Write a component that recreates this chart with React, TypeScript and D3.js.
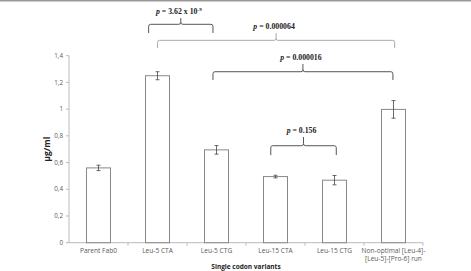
import React from "react";
import * as d3 from "d3";

const categories = ["Parent Fab0", "Leu-5 CTA", "Leu-5 CTG", "Leu-15 CTA", "Leu-15 CTG", "Non-optimal [Leu-4]-|[Leu-5]-[Pro-6] run"];
const values = [0.56, 1.25, 0.695, 0.495, 0.468, 0.998];
const errors = [0.02, 0.03, 0.032, 0.01, 0.035, 0.066];
const yTicks = [0, 0.2, 0.4, 0.6, 0.8, 1, 1.2, 1.4];
const brackets = [
  { from: 0.85, to: 1.94, label: "3.62 x 10", sup: "-9", level: 1.635, drop: 0.065, tick: 0.047, color: "#555" },
  { from: 1.0, to: 5.02, label: "0.000064", sup: "", level: 1.515, drop: 0.057, tick: 0.055, color: "#aaa" },
  { from: 1.94, to: 4.99, label: "0.000016", sup: "", level: 1.28, drop: 0.062, tick: 0.058, color: "#555" },
  { from: 2.92, to: 4.03, label: "0.156", sup: "", level: 0.726, drop: 0.07, tick: 0.065, color: "#555" },
];

export default function App() {
  const W = 471, H = 271;
  const left = 69, right = 423, y0 = 242.7, yTop = 55.7;
  const x = d3.scaleBand().domain(categories.map((_, i) => String(i))).range([left, right]);
  const y = d3.scaleLinear().domain([0, 1.4]).range([y0, yTop]);
  const bw = 24;
  const cx = (i: number) => {
    const lo = Math.min(Math.floor(i), categories.length - 1);
    const frac = i - lo;
    return x(String(lo))! + x.bandwidth() / 2 + frac * x.bandwidth();
  };
  const ff = "'Open Sans', 'Liberation Sans', sans-serif";
  return (
    <svg width={W} height={H} style={{ position: "absolute", left: 0, top: 0, background: "#fff" }}>
      <rect x={0} y={0} width={W} height={1.5} fill="#999" />
      <line x1={left} x2={left} y1={yTop} y2={y0} stroke="#bbb" strokeWidth={1} />
      {yTicks.map((t) => (
        <g key={t}>
          <line x1={left - 3} x2={left} y1={y(t)} y2={y(t)} stroke="#bbb" />
          <text x={left - 6} y={y(t)} dy="0.35em" textAnchor="end" fontSize={6.3} fill="#595959" fontFamily={ff}>
            {String(t).replace(".", ",")}
          </text>
        </g>
      ))}
      <line x1={left} x2={right} y1={y0} y2={y0} stroke="#bbb" />
      {categories.map((_, i) => (
        <line key={i} x1={x(String(i))! + x.bandwidth()} x2={x(String(i))! + x.bandwidth()} y1={y0} y2={y0 + 3} stroke="#bbb" />
      ))}
      {categories.map((c, i) => (
        <text key={c} x={cx(i)} y={y0 + 10.5} textAnchor="middle" fontSize={6.6} fill="#595959" fontFamily={ff}>
          {c.split("|").map((l, k) => (
            <tspan key={k} x={cx(i)} dy={k === 0 ? 0 : 8}>{l}</tspan>
          ))}
        </text>
      ))}
      {values.map((v, i) => (
        <g key={i}>
          <rect x={cx(i) - bw / 2} y={y(v)} width={bw} height={y0 - y(v)} fill="#fff" stroke="#888" strokeWidth={1} />
          <line x1={cx(i)} x2={cx(i)} y1={y(v + errors[i])} y2={y(v - errors[i])} stroke="#444" strokeWidth={0.8} />
          <line x1={cx(i) - 2} x2={cx(i) + 2} y1={y(v + errors[i])} y2={y(v + errors[i])} stroke="#444" strokeWidth={0.8} />
          <line x1={cx(i) - 2} x2={cx(i) + 2} y1={y(v - errors[i])} y2={y(v - errors[i])} stroke="#444" strokeWidth={0.8} />
        </g>
      ))}
      {brackets.map((b, k) => {
        const x1 = cx(b.from), x2 = cx(b.to), yl = y(b.level), yd = y(b.level - b.drop);
        const xm = (x1 + x2) / 2, yt = y(b.level + b.tick);
        const path = `M${x1},${yd} L${x1},${yl + 2} Q${x1},${yl} ${x1 + 2},${yl} L${xm - 2},${yl} Q${xm},${yl} ${xm},${yl - 2} L${xm},${yt} M${xm},${yl - 2} Q${xm},${yl} ${xm + 2},${yl} L${x2 - 2},${yl} Q${x2},${yl} ${x2},${yl + 2} L${x2},${yd}`;
        return (
          <g key={k}>
            <path d={path} fill="none" stroke={b.color} strokeWidth={1} />
            <text x={xm - 2} y={yt - 4} textAnchor="middle" fontSize={7.8} fontWeight="bold" fontFamily="'Liberation Serif', serif" fill="#222">
              <tspan fontStyle="italic">p</tspan>
              {" = " + b.label}
              {b.sup && <tspan fontSize={5} dy={-3}>{b.sup}</tspan>}
            </text>
          </g>
        );
      })}
      <text transform={`translate(50,${(yTop + y0) / 2}) rotate(-90)`} textAnchor="middle" fontSize={8.5} fontWeight="bold" fontFamily={ff} fill="#222">µg/ml</text>
      <text x={(left + right) / 2} y={269} textAnchor="middle" fontSize={6.5} fontWeight="bold" fontFamily={ff} fill="#222">Single codon variants</text>
    </svg>
  );
}
